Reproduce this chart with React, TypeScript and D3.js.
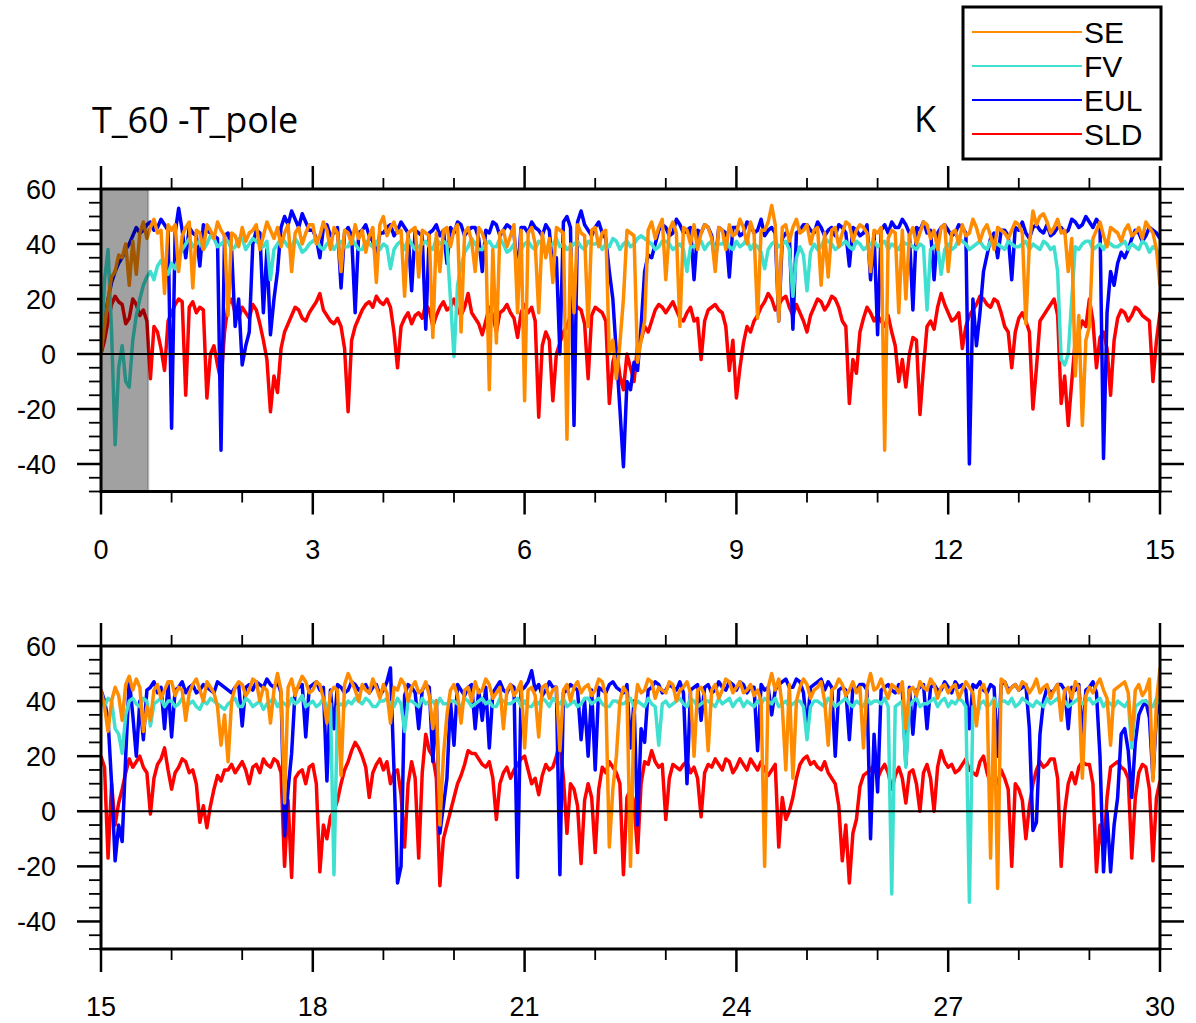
import React from "react";
import * as d3 from "d3";

// each series is stored as values at every 0.1 day plus the values half-way between them
const STEP = 0.05;

const seriesNames = ["SE", "FV", "EUL", "SLD"];
const seriesColors = ["#FF8C00", "#40E0D0", "#0000FF", "#FF0000"];
const drawOrder = ["SLD", "EUL", "FV", "SE"];

const yMajorTicks = [-40, -20, 0, 20, 40, 60];
const topXTicks = [0, 3, 6, 9, 12, 15];
const botXTicks = [15, 18, 21, 24, 27, 30];
const spinUpEnd = 0.67;

// ---------- day 0 .. 15 ----------
const sldTop = [0,12,21,18,13,18,16,-9,8,-6,
15,20,-15,19,17,-16,3,-10,18,15,
17,13,16,5,-21,-14,8,14,16,12,
17,22,14,11,10,-21,10,16,19,21,
18,17,-5,13,11,15,18,10,17,16,
20,14,22,13,7,17,8,16,15,6,
18,17,-23,8,-17,4,10,18,16,-9,
17,15,-18,2,-13,-5,3,10,12,18,
15,19,13,15,12,-2,16,18,15,-6,
-16,4,8,14,19,20,18,21,14,15,
8,17,19,18,20,12,-18,-7,13,15,
14,10,8,-10,-12,6,-22,10,9,22,
15,13,2,14,18,20,17,19,10,-5,
13,12,-20,12,16,20,-18,-26,5,12,
20,-5,8,-15,13,15,14,16,13,-10,
15];
const sldTopMid = [5,18,19,11,20,14,12,10,2,12,
18,19,17,15,16,0,-4,8,20,13,
15,18,11,-2,-8,2,11,17,13,15,
19,16,12,13,2,5,13,18,17,19,
20,8,10,15,14,13,16,14,19,17,
16,17,15,11,12,14,15,18,13,15,
15,12,3,5,0,8,14,17,11,14,
16,12,-3,-8,0,-10,5,8,16,17,
17,16,12,17,13,12,17,16,10,5,
-5,10,12,17,22,16,20,17,18,12,
14,20,16,21,17,10,-2,8,17,12,
12,14,3,-2,0,5,-5,12,17,18,
12,15,10,16,21,18,20,15,8,8,
15,8,-5,14,18,14,-8,-10,8,10,
12,6,2,5,16,12,17,14,12,5];

const eulTop = [0,20,30,35,40,46,45,48,46,47,
-27,53,35,44,32,45,43,-35,44,10,
-4,8,45,15,7,30,50,52,46,48,
45,35,47,44,24,46,15,45,43,35,
44,47,45,46,23,44,9,45,43,33,
44,47,45,46,30,44,47,45,46,29,
46,48,45,47,30,0,50,-26,52,45,
46,44,30,0,-41,-13,-6,30,35,45,
46,44,47,45,27,44,46,33,45,28,
46,44,47,45,43,46,12,44,9,45,
47,44,46,45,43,46,32,45,44,27,
7,47,48,46,47,16,45,44,27,46,
45,44,46,-40,3,30,42,35,45,27,
45,44,46,45,47,44,46,45,48,47,
48,49,-38,30,33,35,42,44,43,45,
42];
const eulTopMid = [12,26,33,38,43,44,47,45,49,45,
44,45,46,43,47,44,42,43,38,20,
3,40,44,38,20,46,47,49,51,45,
42,46,43,46,44,43,44,47,41,44,
46,43,48,44,45,43,44,47,45,46,
48,43,46,42,45,48,43,47,44,46,
44,46,43,45,35,48,46,48,47,43,
48,42,20,-20,-10,-3,10,36,40,47,
43,49,44,46,45,47,43,46,44,46,
43,48,44,49,45,44,42,43,44,47,
45,48,43,46,47,44,46,43,47,44,
45,44,46,49,44,46,48,45,44,47,
43,47,44,20,15,36,44,45,43,46,
48,42,47,44,43,46,44,49,46,50,
46,47,15,25,37,38,45,41,46,44];

const fvTop = [0,38,-33,3,-12,14,25,30,32,31,
33,35,40,39,41,40,42,40,41,39,
42,40,41,39,27,40,41,39,40,38,
41,39,40,38,41,39,40,38,40,41,
40,31,40,38,40,39,41,38,40,40,
-1,32,39,40,38,41,39,40,38,30,
40,39,41,38,40,39,38,40,39,41,
40,38,39,41,40,39,42,42,40,39,
41,38,40,30,39,41,40,38,40,39,
41,40,38,39,31,40,39,41,21,39,
23,40,39,41,38,40,39,41,38,40,
39,41,40,38,40,39,40,16,39,29,
40,39,41,38,40,39,41,40,38,40,
39,41,40,38,40,39,-2,0,39,40,
41,39,38,40,39,41,40,38,40,39,
36];
const fvTopMid = [27,8,-5,-10,5,20,28,27,34,29,
31,38,42,40,38,43,39,41,38,42,
38,42,40,41,38,42,39,42,37,40,
42,38,41,40,39,42,38,41,39,38,
39,38,41,42,38,40,39,42,41,20,
25,37,42,38,40,39,42,37,40,38,
41,38,40,39,42,40,39,41,38,40,
41,40,42,38,41,40,43,41,38,41,
40,39,38,39,40,38,41,40,42,38,
39,42,40,37,38,41,40,38,35,36,
37,38,42,40,39,41,38,40,39,41,
40,38,39,41,40,38,39,38,40,38,
38,42,40,39,41,38,40,39,41,39,
40,38,39,41,38,30,-4,20,38,41,
38,40,41,39,40,38,39,41,37,38];

const seTop = [0,20,30,35,25,29,48,46,44,22,
45,30,46,24,44,47,42,45,14,43,
46,44,47,43,45,46,44,30,46,44,
47,43,45,46,30,44,47,45,43,26,
50,46,44,21,45,28,44,6,30,46,
45,8,46,30,44,-13,4,45,43,15,
-17,46,15,35,26,45,-31,15,44,10,
46,44,0,-9,20,44,-3,12,48,46,
27,48,10,45,47,44,46,30,45,47,
44,46,48,13,45,54,12,47,46,44,
47,45,25,28,46,44,47,45,46,30,
44,-35,45,15,20,46,44,47,45,46,
30,45,47,44,46,45,43,46,44,45,
47,11,52,50,48,46,44,30,-8,-26,
10,45,43,46,44,45,43,46,48,44,
25];
const seTopMid = [10,28,36,40,41,44,42,49,45,47,
47,43,48,45,38,45,48,43,44,39,
41,45,38,48,42,39,47,44,40,47,
40,48,38,44,45,40,42,37,46,47,
43,48,45,44,46,45,43,44,45,39,
47,44,41,46,40,38,44,39,47,45,
44,40,44,42,46,44,40,47,43,45,
39,45,5,4,45,43,5,45,42,49,
45,44,46,40,38,47,42,46,38,43,
49,40,44,45,48,47,46,41,49,45,
40,46,44,45,39,48,41,47,44,45,
46,42,44,45,43,40,48,42,38,47,
44,40,43,49,41,47,38,45,42,48,
44,40,47,51,44,49,45,42,14,5,
42,48,39,45,41,47,44,42,46,38];

// ---------- day 15 .. 30 ----------
const sldBot = [20,-17,-5,8,19,18,16,-1,17,23,
8,16,18,15,-4,-6,8,11,15,14,
18,10,17,19,16,18,-20,-24,14,10,
17,-22,-10,0,10,18,25,20,5,17,
15,10,15,-13,18,-17,28,20,-27,-5,
5,13,22,21,17,18,-3,14,12,17,
20,10,6,17,16,25,-8,8,-19,10,
-15,16,18,14,-23,8,-15,18,22,16,
-3,17,15,18,16,-2,17,19,15,18,
16,17,19,15,15,15,-13,-3,5,17,
20,18,15,14,10,-18,-26,-3,13,15,
12,17,8,16,3,15,0,17,0,22,
16,14,17,15,13,20,10,10,12,-20,
8,-10,10,18,17,19,-20,10,10,18,
17,-22,-15,16,18,15,-17,14,16,-18,
11];
const sldBotMid = [16,10,3,14,16,20,14,12,19,15,
14,19,14,10,2,2,13,15,17,16,
15,16,14,17,19,14,4,12,15,16,
10,-5,-2,4,15,22,23,16,14,19,
18,14,6,10,12,14,22,12,-10,0,
10,17,21,19,16,12,10,16,15,19,
15,12,13,15,20,12,10,2,4,5,
8,14,16,10,5,3,10,17,18,17,
12,16,17,14,12,14,16,17,19,14,
19,15,17,18,13,17,5,0,12,19,
17,16,18,12,2,-5,-8,9,14,17,
15,14,13,12,14,10,14,12,16,18,
17,15,19,14,18,14,12,15,8,10,
4,2,15,16,19,12,0,14,16,17,
10,-5,5,17,16,12,5,17,8,5];

const eulBot = [44,33,-18,-11,48,20,26,45,43,30,
27,45,43,46,44,45,43,46,44,45,
31,46,47,45,46,47,-9,21,45,27,
46,44,11,30,45,44,46,45,43,46,
44,52,-26,42,45,30,46,18,-8,12,
24,44,45,30,33,23,45,44,46,-24,
45,51,46,44,45,-23,44,45,26,20,
15,44,46,45,43,23,-5,25,45,46,
44,45,47,10,45,33,46,44,45,47,
44,46,45,22,44,35,46,48,45,47,
30,46,48,47,20,45,26,44,46,-10,
7,45,44,46,17,28,45,30,46,44,
45,47,46,30,45,44,46,20,47,45,
44,46,-7,28,45,44,46,30,44,27,
45,43,-22,-22,5,30,5,35,40,12,
40];
const eulBotMid = [40,10,-5,20,35,40,44,47,45,46,
44,47,45,43,46,44,47,45,43,46,
45,44,46,48,45,43,8,44,46,45,
47,45,44,46,43,47,44,46,45,42,
47,15,-20,46,43,44,45,40,2,40,
46,42,46,44,45,43,47,43,45,44,
47,44,42,47,45,43,46,44,40,44,
45,43,47,44,46,40,30,44,47,43,
46,44,43,44,46,45,43,47,44,46,
47,43,45,46,45,44,47,45,48,43,
45,47,44,45,44,44,45,46,44,28,
44,46,43,44,45,44,46,45,44,47,
43,45,44,46,47,43,45,46,44,46,
45,30,-4,40,43,46,44,45,46,44,
47,20,0,-5,28,22,25,38,34,35];

const fvBot = [40,41,30,21,40,39,41,31,40,38,
40,39,38,40,37,39,40,38,39,41,
38,40,39,37,40,38,39,41,40,38,
40,39,38,-23,39,40,41,39,40,38,
40,39,41,29,40,38,39,40,41,39,
40,38,40,39,41,40,38,40,39,41,
40,38,39,40,41,39,38,40,39,41,
40,39,38,40,39,41,40,38,39,24,
40,39,41,38,40,39,40,38,39,41,
40,38,39,40,41,39,38,40,39,40,
26,40,39,41,38,40,39,40,38,39,
40,41,-30,39,16,40,38,39,41,40,
38,39,40,-33,33,40,39,38,40,41,
39,40,38,39,41,40,39,38,40,39,
41,40,38,39,40,38,23,39,40,38,
39];
const fvBotMid = [38,40,28,35,41,38,40,39,41,40,
38,41,39,38,40,41,39,37,40,38,
41,38,40,39,41,40,38,39,42,39,
38,41,39,38,38,39,40,41,38,40,
41,38,39,40,39,41,40,38,39,40,
39,41,38,40,39,38,41,39,40,38,
38,40,41,38,40,41,39,38,41,39,
41,38,40,39,40,38,39,41,38,39,
38,40,39,41,38,40,39,41,40,38,
41,40,38,39,40,41,39,38,40,38,
38,40,38,40,39,41,38,39,41,40,
39,38,38,40,38,41,39,40,38,41,
40,41,38,38,39,38,41,40,39,38,
41,39,40,38,39,41,40,39,41,40,
39,41,40,38,39,40,38,40,39,41];

const seBot = [44,29,45,33,49,48,29,33,46,44,
47,45,33,46,44,47,43,24,18,45,
46,44,47,45,32,50,3,48,46,47,
44,46,32,45,13,50,44,46,43,45,
46,32,44,46,45,43,47,30,-5,35,
46,32,45,47,44,46,43,30,46,44,
23,45,27,46,44,22,46,45,43,46,
44,47,-13,20,45,-20,46,44,47,45,
43,46,44,47,20,45,22,46,44,47,
45,43,46,44,-20,50,48,15,12,45,
46,44,47,24,45,46,44,43,23,50,
45,44,46,43,30,45,47,44,46,45,
43,46,44,45,31,46,-17,-28,47,45,
44,46,45,43,46,44,33,45,47,12,
45,46,44,24,45,47,26,46,44,11,
52];
const seBotMid = [38,40,42,46,44,45,38,44,41,47,
42,44,43,48,40,45,38,35,40,47,
42,48,40,44,44,44,45,42,49,43,
47,41,43,44,46,47,40,44,48,41,
43,45,48,40,47,44,42,40,20,44,
42,44,40,43,48,41,45,44,42,47,
44,42,45,41,45,44,40,47,45,42,
48,42,8,40,43,35,43,48,41,44,
47,40,45,43,44,42,44,41,48,43,
47,44,42,40,45,44,38,46,40,48,
41,45,40,44,48,42,47,45,45,44,
48,41,45,47,44,42,45,48,41,46,
45,41,47,43,44,42,40,48,43,46,
47,43,48,45,41,46,44,41,45,42,
43,48,41,44,46,43,44,42,48,40];

function interleave(a: number[], mid: number[]): number[] {
  const out: number[] = [];
  a.forEach((v, i) => {
    out.push(v);
    if (i < mid.length) out.push(mid[i]);
  });
  return out;
}

const LEFT = 101;
const RIGHT = 1160;
const AXIS_FONT = "'Liberation Sans', Arial, Helvetica, sans-serif";

type PanelProps = {
  top: number;
  bottom: number;
  d0: number;
  xTicks: number[];
  data: Record<string, number[]>;
  shadeTo?: number;
};

function Panel({ top, bottom, d0, xTicks, data, shadeTo }: PanelProps) {
  const x = d3.scaleLinear().domain([d0, d0 + 15]).range([LEFT, RIGHT]);
  const y = d3.scaleLinear().domain([-50, 60]).range([bottom, top]);
  const minorX = d3.range(d0, d0 + 15.001, 1).filter((v) => !xTicks.includes(v));
  const minorY = d3.range(-50, 60.001, 5).filter((v) => !yMajorTicks.includes(v));
  const mkLine = d3
    .line<number>()
    .x((_, i) => x(d0 + i * STEP))
    .y((v) => y(v));
  const clipId = `clip-${d0}`;
  return (
    <g>
      <defs>
        <clipPath id={clipId}>
          <rect x={LEFT} y={top} width={RIGHT - LEFT} height={bottom - top} />
        </clipPath>
      </defs>
      <g clipPath={`url(#${clipId})`}>
        {drawOrder.map((name) => (
          <path
            key={name}
            d={mkLine(data[name]) || ""}
            fill="none"
            stroke={seriesColors[seriesNames.indexOf(name)]}
            strokeWidth={3.5}
            strokeLinejoin="round"
          />
        ))}
      </g>
      <line x1={LEFT} x2={RIGHT} y1={y(0)} y2={y(0)} stroke="#000" strokeWidth={2} />
      {shadeTo !== undefined && (
        <g>
          <rect
            x={x(d0)}
            y={top}
            width={x(shadeTo) - x(d0)}
            height={bottom - top}
            fill="#000"
            fillOpacity={0.37}
          />
          <line x1={x(shadeTo)} x2={x(shadeTo)} y1={top} y2={bottom} stroke="#000" strokeOpacity={0.2} strokeWidth={2} />
        </g>
      )}
      <rect x={LEFT} y={top} width={RIGHT - LEFT} height={bottom - top} fill="none" stroke="#000" strokeWidth={3} />
      {xTicks.map((t) => (
        <g key={`xM${t}`}>
          <line x1={x(t)} x2={x(t)} y1={top} y2={top - 23} stroke="#000" strokeWidth={2.5} />
          <line x1={x(t)} x2={x(t)} y1={bottom} y2={bottom + 23} stroke="#000" strokeWidth={2.5} />
          <text x={x(t)} y={bottom + 67} textAnchor="middle" fontFamily={AXIS_FONT} fontSize={27} fill="#000">
            {t}
          </text>
        </g>
      ))}
      {minorX.map((t) => (
        <g key={`xm${t}`}>
          <line x1={x(t)} x2={x(t)} y1={top} y2={top - 11} stroke="#000" strokeWidth={1.8} />
          <line x1={x(t)} x2={x(t)} y1={bottom} y2={bottom + 11} stroke="#000" strokeWidth={1.8} />
        </g>
      ))}
      {yMajorTicks.map((t) => (
        <g key={`yM${t}`}>
          <line x1={LEFT} x2={LEFT - 24} y1={y(t)} y2={y(t)} stroke="#000" strokeWidth={2.5} />
          <line x1={RIGHT} x2={RIGHT + 24} y1={y(t)} y2={y(t)} stroke="#000" strokeWidth={2.5} />
          <text x={56} y={y(t) + 9.7} textAnchor="end" fontFamily={AXIS_FONT} fontSize={27} fill="#000">
            {t}
          </text>
        </g>
      ))}
      {minorY.map((t) => (
        <g key={`ym${t}`}>
          <line x1={LEFT} x2={LEFT - 12} y1={y(t)} y2={y(t)} stroke="#000" strokeWidth={1.8} />
          <line x1={RIGHT} x2={RIGHT + 12} y1={y(t)} y2={y(t)} stroke="#000" strokeWidth={1.8} />
        </g>
      ))}
    </g>
  );
}

export default function App() {
  const legendY = [32, 66, 100, 134];
  const topData = {
    SE: interleave(seTop, seTopMid),
    FV: interleave(fvTop, fvTopMid),
    EUL: interleave(eulTop, eulTopMid),
    SLD: interleave(sldTop, sldTopMid),
  };
  const botData = {
    SE: interleave(seBot, seBotMid),
    FV: interleave(fvBot, fvBotMid),
    EUL: interleave(eulBot, eulBotMid),
    SLD: interleave(sldBot, sldBotMid),
  };
  return (
    <svg
      width={1196}
      height={1023}
      style={{ position: "absolute", left: 0, top: 0, display: "block", background: "#fff" }}
    >
      <rect x={0} y={0} width={1196} height={1023} fill="#fff" />
      <text x={92} y={133} fontFamily="'Open Sans', sans-serif" fontSize={36} fill="#000">
        T_60 -T_pole
      </text>
      <text x={914} y={132} fontFamily="'Open Sans', sans-serif" fontSize={36} fill="#000">
        K
      </text>
      <Panel top={189} bottom={491.5} d0={0} xTicks={topXTicks} data={topData} shadeTo={spinUpEnd} />
      <Panel top={646} bottom={949} d0={15} xTicks={botXTicks} data={botData} />
      <g>
        <rect x={963} y={7} width={198} height={152} fill="#fff" stroke="#000" strokeWidth={3} />
        {seriesNames.map((name, i) => (
          <g key={name}>
            <line x1={972} x2={1082} y1={legendY[i]} y2={legendY[i]} stroke={seriesColors[i]} strokeWidth={2} />
            <text x={1084} y={legendY[i] + 11} fontFamily={AXIS_FONT} fontSize={30} fill="#000">
              {name}
            </text>
          </g>
        ))}
      </g>
    </svg>
  );
}
